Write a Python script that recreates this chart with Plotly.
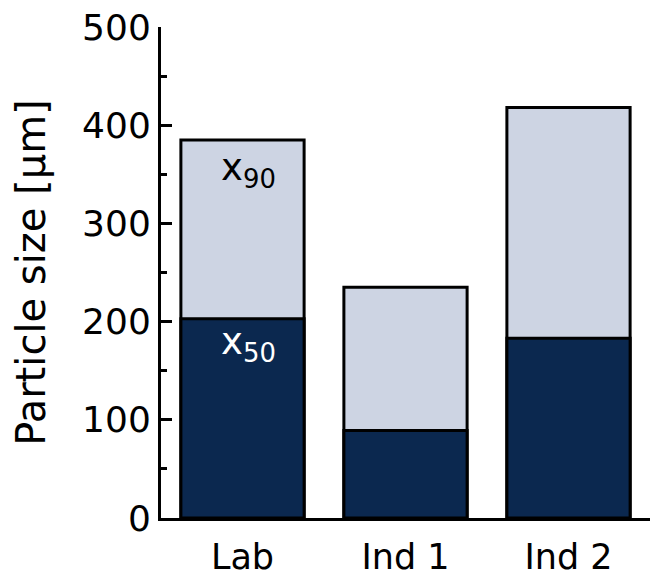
import plotly.graph_objects as go

# Particle size distributions: median (x50) and 90th percentile (x90)
categories = ["Lab", "Ind 1", "Ind 2"]
x90_values = [385, 235, 418]
x50_values = [203, 89, 183]
y_tick_values = [0, 100, 200, 300, 400, 500]

LIGHT = "#cdd4e3"
DARK = "#0b284f"
FONT = "DejaVu Sans"

fig = go.Figure()
fig.add_trace(go.Bar(
    x=categories, y=x90_values, name="x90", width=0.756,
    marker=dict(color=LIGHT, line=dict(color="black", width=3)),
))
fig.add_trace(go.Bar(
    x=categories, y=x50_values, name="x50", width=0.756,
    marker=dict(color=DARK, line=dict(color="black", width=3)),
))

fig.add_annotation(x=categories[0], y=x90_values[0], xref="x", yref="y",
                   text="x<sub>90</sub>", showarrow=False, yanchor="top",
                   yshift=-4, xshift=6, font=dict(family=FONT, size=37, color="black"))
fig.add_annotation(x=categories[0], y=x50_values[0], xref="x", yref="y",
                   text="x<sub>50</sub>", showarrow=False, yanchor="top",
                   yshift=1, xshift=6, font=dict(family=FONT, size=37, color="white"))

fig.update_layout(
    barmode="overlay",
    width=650, height=577,
    margin=dict(l=161, r=0, t=27, b=59),
    paper_bgcolor="white", plot_bgcolor="white",
    showlegend=False,
    font=dict(family=FONT, color="black"),
)
fig.update_xaxes(
    range=[-0.5, 2.5], showline=True, linecolor="black", linewidth=3,
    ticks="", showgrid=False, tickfont=dict(size=35, family=FONT),
    ticklabelstandoff=6,
)
fig.update_yaxes(
    range=[0, 500], tickvals=y_tick_values, showline=True, linecolor="black",
    linewidth=3, ticks="inside", ticklen=11, tickwidth=3, tickcolor="black",
    minor=dict(dtick=50, ticks="inside", ticklen=6, tickwidth=3, tickcolor="black", showgrid=False),
    showgrid=False, zeroline=False, tickfont=dict(size=36, family=FONT),
    title=dict(text="Particle size [µm]", font=dict(size=40, family=FONT), standoff=25),
)

fig.write_html("out.html")
